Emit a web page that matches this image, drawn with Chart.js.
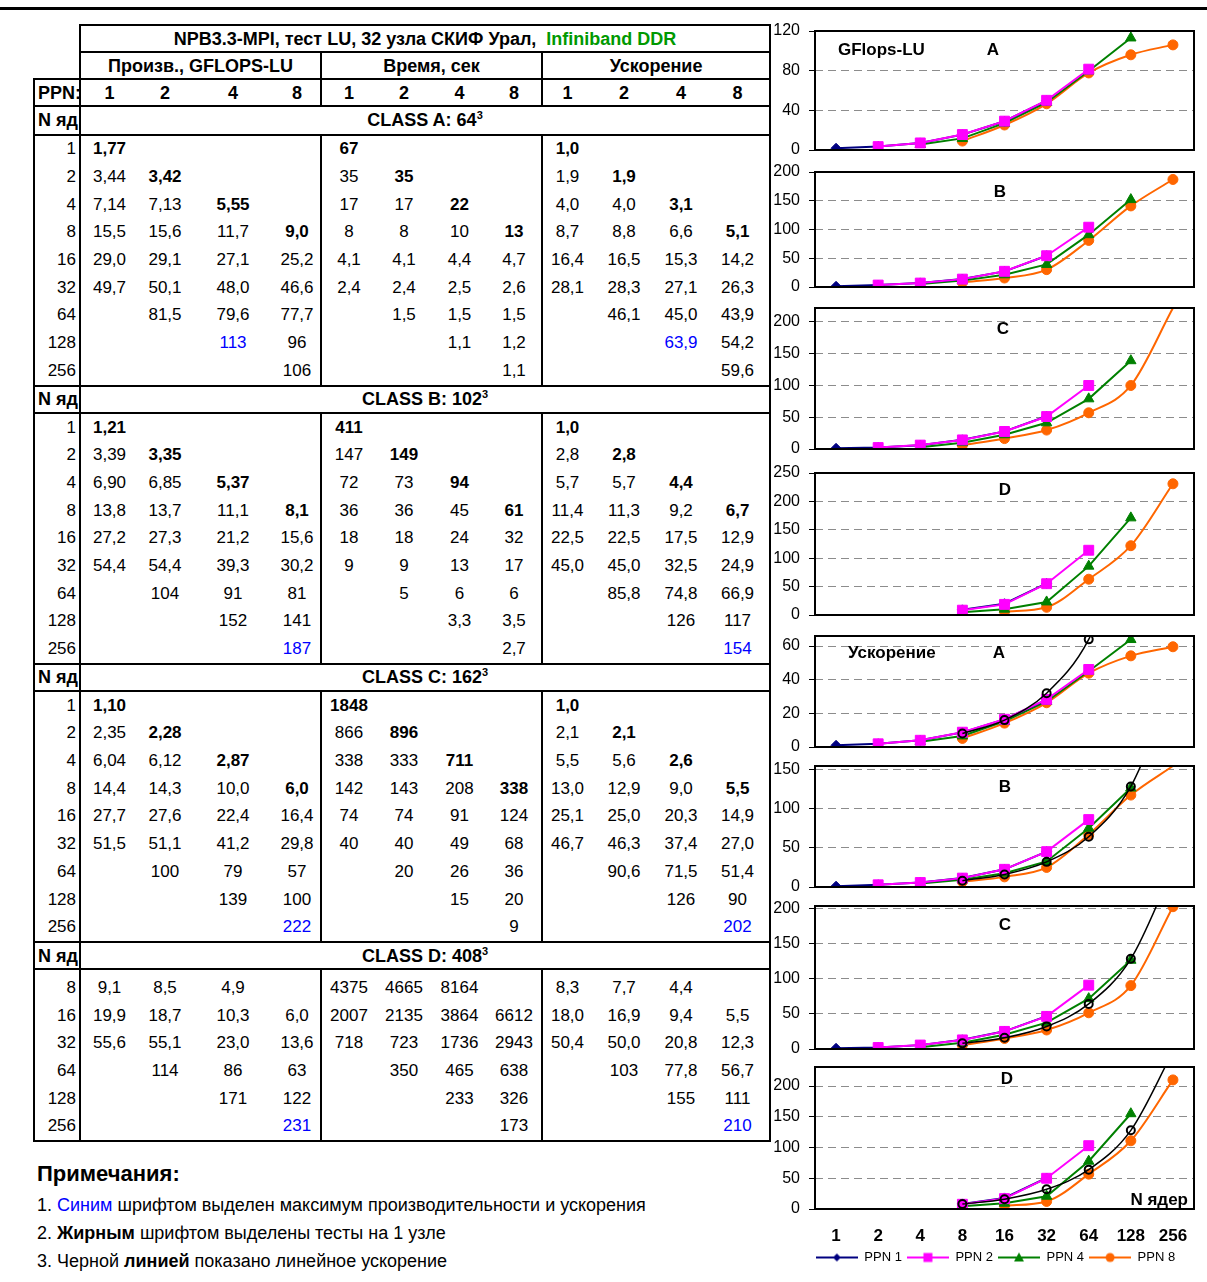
<!DOCTYPE html>
<html>
<head>
<meta charset="utf-8">
<script src="https://cdn.jsdelivr.net/npm/chart.js@4.4.1/dist/chart.umd.min.js"></script>
<style>
  body { margin: 0; width: 1207px; height: 1282px; position: relative; overflow: hidden; background: #fff;
         font-family: "Liberation Sans", Arial, sans-serif; color: #000; }
  #topline { position: absolute; left: 0; top: 7px; width: 1207px; height: 3px; background: #000; }
  #tbl { position: absolute; left: 33px; top: 24px; border-collapse: collapse; table-layout: fixed;
         width: 736px; font-size: 17px; }
  #tbl td { padding: 0; text-align: center; white-space: nowrap; height: 25px; line-height: 20px; }
  #tbl tr.hd td { font-size: 18px; }
  #tbl tr.hd2 td { height: 26.5px; }
  #tbl tr.dr td { height: 27.7px; }
  #tbl tr.gap td { padding-top: 4px; }
  #tbl .bx { border: 2.5px solid #000; }
  #tbl .tb { border-top: 2.5px solid #000; border-bottom: 2.5px solid #000; }
  #tbl .gr { border-right: 2.5px solid #000; }
  #tbl .nc { text-align: right; padding-right: 3px; border-left: 2.5px solid #000; border-right: 2.5px solid #000; }
  #tbl .lft { text-align: left; padding-left: 3px; font-size: 17px; }
  #tbl tr.last td { border-bottom: 2.5px solid #000; }
  #tbl .b { font-weight: bold; }
  #tbl .mx { color: #0000ff; }
  #tbl sup { font-size: 11px; line-height: 0; vertical-align: 7px; }
  .green { color: #009900; }
  canvas { position: absolute; }
  .note { position: absolute; left: 37px; font-size: 18px; white-space: nowrap; }
</style>
</head>
<body>
<div id="topline"></div>
<table id="tbl"></table>
<div class="note" style="top:1161px;font-size:22px;font-weight:bold">Примечания:</div>
<div class="note" style="top:1195px">1. <span style="color:#0000ff">Синим</span> шрифтом выделен максимум производительности и ускорения</div>
<div class="note" style="top:1223px">2. <b>Жирным</b> шрифтом выделены тесты на 1 узле</div>
<div class="note" style="top:1251px">3. Черной <b>линией</b> показано линейное ускорение</div>

<script>
// number of cores (rows of the table, x categories of the charts)
const nCores = ['1', '2', '4', '8', '16', '32', '64', '128', '256'];
const ppnLabels = ['1', '2', '4', '8'];
const seriesNames = ['PPN 1', 'PPN 2', 'PPN 4', 'PPN 8'];
const classNames = ['A', 'B', 'C', 'D'];
const classSizes = ['64', '102', '162', '408'];
const linearSpeedup = [null, null, null, 8, 16, 32, 64, 128, 256];

// class A: one array per PPN, values by N cores
const gflopsA = [
  ['1,77', '3,44', '7,14', '15,5', '29,0', '49,7', '', '', ''],
  ['', '3,42', '7,13', '15,6', '29,1', '50,1', '81,5', '', ''],
  ['', '', '5,55', '11,7', '27,1', '48,0', '79,6', '113', ''],
  ['', '', '', '9,0', '25,2', '46,6', '77,7', '96', '106']
];
const timeA = [
  ['67', '35', '17', '8', '4,1', '2,4', '', '', ''],
  ['', '35', '17', '8', '4,1', '2,4', '1,5', '', ''],
  ['', '', '22', '10', '4,4', '2,5', '1,5', '1,1', ''],
  ['', '', '', '13', '4,7', '2,6', '1,5', '1,2', '1,1']
];
const speedA = [
  ['1,0', '1,9', '4,0', '8,7', '16,4', '28,1', '', '', ''],
  ['', '1,9', '4,0', '8,8', '16,5', '28,3', '46,1', '', ''],
  ['', '', '3,1', '6,6', '15,3', '27,1', '45,0', '63,9', ''],
  ['', '', '', '5,1', '14,2', '26,3', '43,9', '54,2', '59,6']
];

// class B
const gflopsB = [
  ['1,21', '3,39', '6,90', '13,8', '27,2', '54,4', '', '', ''],
  ['', '3,35', '6,85', '13,7', '27,3', '54,4', '104', '', ''],
  ['', '', '5,37', '11,1', '21,2', '39,3', '91', '152', ''],
  ['', '', '', '8,1', '15,6', '30,2', '81', '141', '187']
];
const timeB = [
  ['411', '147', '72', '36', '18', '9', '', '', ''],
  ['', '149', '73', '36', '18', '9', '5', '', ''],
  ['', '', '94', '45', '24', '13', '6', '3,3', ''],
  ['', '', '', '61', '32', '17', '6', '3,5', '2,7']
];
const speedB = [
  ['1,0', '2,8', '5,7', '11,4', '22,5', '45,0', '', '', ''],
  ['', '2,8', '5,7', '11,3', '22,5', '45,0', '85,8', '', ''],
  ['', '', '4,4', '9,2', '17,5', '32,5', '74,8', '126', ''],
  ['', '', '', '6,7', '12,9', '24,9', '66,9', '117', '154']
];

// class C
const gflopsC = [
  ['1,10', '2,35', '6,04', '14,4', '27,7', '51,5', '', '', ''],
  ['', '2,28', '6,12', '14,3', '27,6', '51,1', '100', '', ''],
  ['', '', '2,87', '10,0', '22,4', '41,2', '79', '139', ''],
  ['', '', '', '6,0', '16,4', '29,8', '57', '100', '222']
];
const timeC = [
  ['1848', '866', '338', '142', '74', '40', '', '', ''],
  ['', '896', '333', '143', '74', '40', '20', '', ''],
  ['', '', '711', '208', '91', '49', '26', '15', ''],
  ['', '', '', '338', '124', '68', '36', '20', '9']
];
const speedC = [
  ['1,0', '2,1', '5,5', '13,0', '25,1', '46,7', '', '', ''],
  ['', '2,1', '5,6', '12,9', '25,0', '46,3', '90,6', '', ''],
  ['', '', '2,6', '9,0', '20,3', '37,4', '71,5', '126', ''],
  ['', '', '', '5,5', '14,9', '27,0', '51,4', '90', '202']
];

// class D (runs start at 8 cores)
const gflopsD = [
  ['', '', '', '9,1', '19,9', '55,6', '', '', ''],
  ['', '', '', '8,5', '18,7', '55,1', '114', '', ''],
  ['', '', '', '4,9', '10,3', '23,0', '86', '171', ''],
  ['', '', '', '', '6,0', '13,6', '63', '122', '231']
];
const timeD = [
  ['', '', '', '4375', '2007', '718', '', '', ''],
  ['', '', '', '4665', '2135', '723', '350', '', ''],
  ['', '', '', '8164', '3864', '1736', '465', '233', ''],
  ['', '', '', '', '6612', '2943', '638', '326', '173']
];
const speedD = [
  ['', '', '', '8,3', '18,0', '50,4', '', '', ''],
  ['', '', '', '7,7', '16,9', '50,0', '103', '', ''],
  ['', '', '', '4,4', '9,4', '20,8', '77,8', '155', ''],
  ['', '', '', '', '5,5', '12,3', '56,7', '111', '210']
];

const gflopsAll = [gflopsA, gflopsB, gflopsC, gflopsD];
const timeAll = [timeA, timeB, timeC, timeD];
const speedAll = [speedA, speedB, speedC, speedD];
const firstRow = [0, 0, 0, 3];

function num(s) {
  return s === '' ? null : parseFloat(s.replace(',', '.'));
}

// ---------- table ----------
(function buildTable() {
  let html = '<colgroup><col style="width:46px">' +
    ['58', '54', '82', '47', '55', '56', '55', '55', '50', '64', '50', '64']
      .map(w => '<col style="width:' + w + 'px">').join('') + '</colgroup>';
  html += '<tr class="hd"><td></td><td colspan="12" class="bx b">NPB3.3-MPI, тест LU, 32 узла СКИФ Урал,&nbsp; <span class="green">Infiniband DDR</span></td></tr>';
  html += '<tr class="hd"><td></td><td colspan="4" class="bx b">Произв., GFLOPS-LU</td><td colspan="4" class="bx b">Время, сек</td><td colspan="4" class="bx b">Ускорение</td></tr>';
  html += '<tr class="hd"><td class="bx b lft">PPN:</td>';
  for (let g = 0; g < 3; g++) {
    ppnLabels.forEach((p, i) => {
      html += '<td class="tb b' + (i === 3 ? ' gr' : '') + '">' + p + '</td>';
    });
  }
  html += '</tr>';

  for (let k = 0; k < 4; k++) {
    const metrics = [gflopsAll[k], timeAll[k], speedAll[k]];
    const maxes = metrics.map(m => Math.max(...m.flat().map(num).filter(v => v !== null)));
    html += '<tr class="hd' + (k === 0 ? ' hd2' : '') + '"><td class="bx b lft">N яд</td><td colspan="12" class="bx b">CLASS ' + classNames[k] +
      ': ' + classSizes[k] + '<sup>3</sup></td></tr>';
    for (let r = firstRow[k]; r < nCores.length; r++) {
      let cls = 'dr';
      if (k === 3 && r === firstRow[k]) cls += ' gap';
      if (k === 3 && r === nCores.length - 1) cls += ' last';
      html += '<tr class="' + cls + '"><td class="nc">' + nCores[r] + '</td>';
      metrics.forEach((m, mi) => {
        for (let p = 0; p < 4; p++) {
          const s = m[p][r];
          const c = [];
          if (s !== '' && r === p) c.push('b');
          if (s !== '' && mi !== 1 && num(s) === maxes[mi]) c.push('mx');
          if (p === 3) c.push('gr');
          html += '<td class="' + c.join(' ') + '">' + s + '</td>';
        }
      });
      html += '</tr>';
    }
  }
  document.getElementById('tbl').innerHTML = html;
})();

// ---------- charts ----------
const seriesStyle = [
  { color: '#000080', shape: 'rectRot', r: 5, order: 2 },
  { color: '#ff00ff', shape: 'rect', r: 7, order: 1 },
  { color: '#008000', shape: 'triangle', r: 6, order: 3 },
  { color: '#ff6600', shape: 'circle', r: 5, order: 4 }
];

const panels = [
  { src: gflopsA, max: 120, step: 40, name: 'GFlops-LU', letter: 'A', top: 31, bottom: 150, lx: 178, dy: 19 },
  { src: gflopsB, max: 200, step: 50, name: '', letter: 'B', top: 172, bottom: 287, lx: 185, dy: 20 },
  { src: gflopsC, max: 222, step: 50, name: '', letter: 'C', top: 308, bottom: 449, lx: 188, dy: 21 },
  { src: gflopsD, max: 250, step: 50, name: '', letter: 'D', top: 473, bottom: 615, lx: 190, dy: 17 },
  { src: speedA, max: 66, step: 20, name: 'Ускорение', letter: 'A', top: 636, bottom: 747, lx: 184, dy: 17, linear: true },
  { src: speedB, max: 154, step: 50, name: '', letter: 'B', top: 766, bottom: 887, lx: 190, dy: 21, linear: true },
  { src: speedC, max: 203, step: 50, name: '', letter: 'C', top: 906, bottom: 1049, lx: 190, dy: 19, linear: true },
  { src: speedD, max: 231, step: 50, name: '', letter: 'D', top: 1067, bottom: 1207, lx: 192, dy: 12, linear: true, last: true }
];

const panelDecor = {
  id: 'panelDecor',
  afterDatasetsDraw(chart, args, o) {
    const a = chart.chartArea, ctx = chart.ctx;
    ctx.save();
    ctx.strokeStyle = '#000';
    ctx.lineWidth = 2;
    ctx.strokeRect(a.left, a.top, a.right - a.left, a.bottom - a.top);
    ctx.fillStyle = '#000';
    ctx.font = 'bold 17px "Liberation Sans", Arial, sans-serif';
    ctx.textBaseline = 'middle';
    if (o.name) {
      ctx.textAlign = 'left';
      ctx.fillText(o.name, a.left + (o.name === 'GFlops-LU' ? 23 : 33), a.top + o.dy);
    }
    ctx.textAlign = 'center';
    ctx.fillText(o.letter, a.left + o.lx, a.top + o.dy);
    if (o.axisName) {
      ctx.textAlign = 'right';
      ctx.fillText(o.axisName, a.right - 6, a.bottom - 9);
    }
    ctx.restore();
  }
};

function legendIcon(st) {
  const c = document.createElement('canvas');
  c.width = 42; c.height = 12;
  const g = c.getContext('2d');
  g.strokeStyle = st.color; g.fillStyle = st.color; g.lineWidth = 2;
  g.beginPath(); g.moveTo(0, 6); g.lineTo(42, 6); g.stroke();
  g.beginPath();
  if (st.shape === 'rectRot') { g.moveTo(21, 2); g.lineTo(25, 6); g.lineTo(21, 10); g.lineTo(17, 6); }
  else if (st.shape === 'rect') { g.rect(16.5, 1.5, 9, 9); }
  else if (st.shape === 'triangle') { g.moveTo(21, 1); g.lineTo(26, 10); g.lineTo(16, 10); }
  else { g.arc(21, 6, 4.5, 0, Math.PI * 2); }
  g.closePath(); g.fill();
  return c;
}

const PAD = 20;
const fontFamily = '"Liberation Sans", Arial, sans-serif';

panels.forEach(pn => {
  const cv = document.createElement('canvas');
  const top = pn.top - PAD;
  const h = pn.last ? 1282 - top : pn.bottom - pn.top + 2 * PAD;
  const w = pn.last ? 471 : 447;
  cv.width = w; cv.height = h;
  cv.style.left = '760px'; cv.style.top = top + 'px';
  cv.style.width = w + 'px'; cv.style.height = h + 'px';
  document.body.appendChild(cv);

  const hideOut = r => c => (c.raw !== null && c.raw !== undefined && c.raw >= pn.max) ? 0 : r;
  const datasets = pn.src.map((col, i) => {
    const st = seriesStyle[i];
    return {
      label: seriesNames[i],
      data: col.map(num),
      borderColor: st.color,
      backgroundColor: st.color,
      borderWidth: 2,
      pointStyle: st.shape,
      pointRadius: hideOut(st.r),
      pointBorderWidth: 1,
      cubicInterpolationMode: i === 3 ? 'monotone' : 'default',
      tension: 0,
      order: st.order
    };
  });
  if (pn.linear) {
    datasets.push({
      label: 'linear',
      data: linearSpeedup,
      borderColor: '#000',
      backgroundColor: 'rgba(0,0,0,0)',
      borderWidth: 1.5,
      pointStyle: 'circle',
      pointRadius: hideOut(4),
      pointBorderWidth: 2,
      cubicInterpolationMode: 'monotone',
      order: 0
    });
  }

  const scales = {
    x: {
      display: !!pn.last,
      offset: true,
      grid: { display: false, drawTicks: false },
      border: { display: false },
      ticks: { color: '#000', padding: 17, maxRotation: 0, autoSkip: false,
               font: { family: fontFamily, size: 17, weight: 'bold' } },
      afterFit: s => { if (pn.last) s.height = 37; }
    },
    y: {
      min: 0,
      max: pn.max,
      ticks: { stepSize: pn.step, color: '#000', padding: 9, autoSkip: false,
               font: { family: fontFamily, size: 16 } },
      grid: { color: '#8c8c8c', lineWidth: 1, tickLength: 6, tickColor: '#000', tickBorderDash: [] },
      border: { display: false, dash: [8, 5] },
      afterBuildTicks: s => {
        const t = [];
        for (let v = 0; v <= pn.max + 1e-9; v += pn.step) t.push({ value: v });
        s.ticks = t;
      },
      afterFit: s => { s.width = 55; }
    }
  };
  if (pn.last) {
    // empty right-hand axis, only to keep the legend centred under the plot
    scales.yR = {
      type: 'linear', position: 'right', display: true,
      grid: { display: false, drawTicks: false }, border: { display: false },
      ticks: { display: false },
      afterFit: s => { s.width = 37; }
    };
  }

  new Chart(cv, {
    type: 'line',
    data: { labels: nCores, datasets: datasets },
    plugins: [panelDecor],
    options: {
      responsive: false,
      animation: false,
      events: [],
      layout: { padding: pn.last ? { top: PAD, left: 0, right: 0, bottom: 8 } : { top: PAD, left: 0, right: 13, bottom: PAD } },
      scales: scales,
      plugins: {
        tooltip: { enabled: false },
        panelDecor: { name: pn.name, letter: pn.letter, lx: pn.lx, dy: pn.dy, axisName: pn.last ? 'N ядер' : '' },
        legend: {
          display: !!pn.last,
          position: 'bottom',
          labels: {
            usePointStyle: true,
            pointStyleWidth: 42,
            padding: 5,
            color: '#000',
            font: { family: fontFamily, size: 13 },
            generateLabels: chart => seriesNames.map((nm, i) => ({
              text: nm,
              pointStyle: legendIcon(seriesStyle[i]),
              fillStyle: seriesStyle[i].color,
              strokeStyle: seriesStyle[i].color,
              lineWidth: 0,
              hidden: false,
              datasetIndex: i,
              fontColor: '#000'
            }))
          }
        }
      }
    }
  });
});
</script>
</body>
</html>
